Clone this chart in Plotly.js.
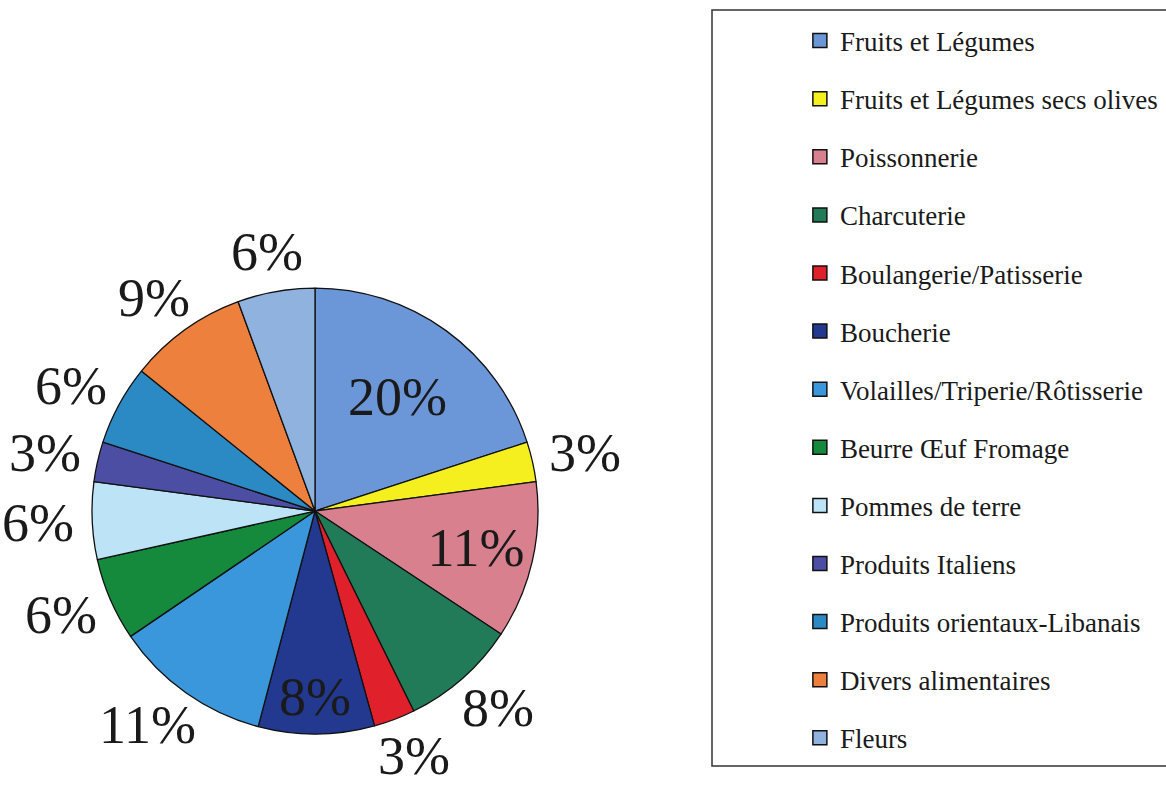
<!DOCTYPE html>
<html>
<head>
<meta charset="utf-8">
<script src="https://cdn.plot.ly/plotly-3.0.1.min.js"></script>
<style>html,body{margin:0;padding:0;background:#fff;}#chart{width:1166px;height:787px;}</style>
</head>
<body>
<div id="chart"></div>
<script>
const categories = [
  "Fruits et Légumes",
  "Fruits et Légumes secs olives",
  "Poissonnerie",
  "Charcuterie",
  "Boulangerie/Patisserie",
  "Boucherie",
  "Volailles/Triperie/Rôtisserie",
  "Beurre Œuf Fromage",
  "Pommes de terre",
  "Produits Italiens",
  "Produits orientaux-Libanais",
  "Divers alimentaires",
  "Fleurs"
];
// shares (%); they round to the printed labels
const shares = [20.0, 2.9, 11.4, 8.4, 3.0, 8.4, 11.4, 6.0, 5.6, 2.9, 5.8, 8.6, 5.6];
const colors = ["#6b96d8", "#f5ef1f", "#d9808f", "#217a58", "#e0202a", "#22398f",
                "#3b97db", "#168a3c", "#bde3f7", "#4b4ea3", "#2b8ac4", "#ec803c", "#90b2df"];
const labelInside = [true, false, true, false, false, true, false,
                     false, false, false, false, false, false];

const FONT = "Liberation Serif";
const LABEL_SIZE = 54;
const W = 1166, H = 787;
const pieDomain = { x: [0.0789, 0.4614], y: [0.0673, 0.634] };

const total = shares.reduce((a, b) => a + b, 0);
const pctText = shares.map(v => Math.round(v / total * 100) + "%");

const traces = [{
  type: "pie",
  labels: categories,
  values: shares,
  sort: false,
  direction: "clockwise",
  rotation: 0,
  marker: { colors: colors, line: { color: "#111", width: 1.3 } },
  texttemplate: "%{percent:.0%}",
  textposition: labelInside.map(b => b ? "inside" : "none"),
  insidetextorientation: "horizontal",
  insidetextfont: { family: FONT, size: LABEL_SIZE, color: "#1a1a1a" },
  domain: pieDomain,
  showlegend: false,
  hoverinfo: "label+percent"
}];

categories.forEach((c, i) => {
  traces.push({
    type: "scatter",
    mode: "markers",
    x: [null], y: [null],
    name: c,
    legendgroup: "g" + i,
    marker: { symbol: "square", size: 14, color: colors[i], line: { color: "#111", width: 1.5 } },
    showlegend: true,
    hoverinfo: "skip"
  });
});

// outside labels: placed along each slice's mid-angle, just beyond the rim
const cxPx = (pieDomain.x[0] + pieDomain.x[1]) / 2 * W;
const cyPx = (1 - (pieDomain.y[0] + pieDomain.y[1]) / 2) * H;
const rPx = Math.min((pieDomain.x[1] - pieDomain.x[0]) * W, (pieDomain.y[1] - pieDomain.y[0]) * H) / 2;
const gap = 18;
const annotations = [];
let cum = 0;
shares.forEach((v, i) => {
  const mid = (cum + v / 2) / total * 2 * Math.PI;
  cum += v;
  if (labelInside[i]) return;
  const s = Math.sin(mid), c = Math.cos(mid);
  const txt = pctText[i];
  const digits = txt.length - 1;
  const w = LABEL_SIZE * (0.5 * digits + 0.833);
  const h = LABEL_SIZE * 0.8;
  let px = cxPx + (rPx + gap) * s + s * w / 2;
  let py = cyPx - (rPx + gap) * c - c * h / 2;
  const halfBox = LABEL_SIZE * 0.58;
  py = Math.min(Math.max(py, halfBox), H - halfBox);
  px = Math.min(Math.max(px, w / 2 + 2), W - w / 2 - 2);
  annotations.push({
    xref: "paper", yref: "paper",
    x: px / W, y: 1 - py / H,
    xanchor: "center", yanchor: "middle",
    text: txt, showarrow: false,
    font: { family: FONT, size: LABEL_SIZE, color: "#1a1a1a" }
  });
});

const layout = {
  width: W,
  height: H,
  margin: { l: 0, r: 0, t: 0, b: 0 },
  paper_bgcolor: "#fff",
  plot_bgcolor: "#fff",
  xaxis: { visible: false, domain: [0.99, 1] },
  yaxis: { visible: false, domain: [0.99, 1] },
  showlegend: true,
  legend: {
    x: 0.686, xanchor: "left",
    y: 0.979, yanchor: "top",
    font: { family: FONT, size: 27, color: "#1a1a1a" },
    tracegroupgap: 20,
    bgcolor: "rgba(0,0,0,0)",
    borderwidth: 0
  },
  annotations: annotations,
  shapes: [{
    type: "rect", xref: "paper", yref: "paper",
    x0: 712 / W, x1: 1.01, y0: 1 - 766 / H, y1: 1 - 10 / H,
    line: { color: "#333", width: 1.5 }, fillcolor: "rgba(0,0,0,0)"
  }]
};

Plotly.newPlot("chart", traces, layout, { displayModeBar: false, staticPlot: true });
</script>
</body>
</html>
